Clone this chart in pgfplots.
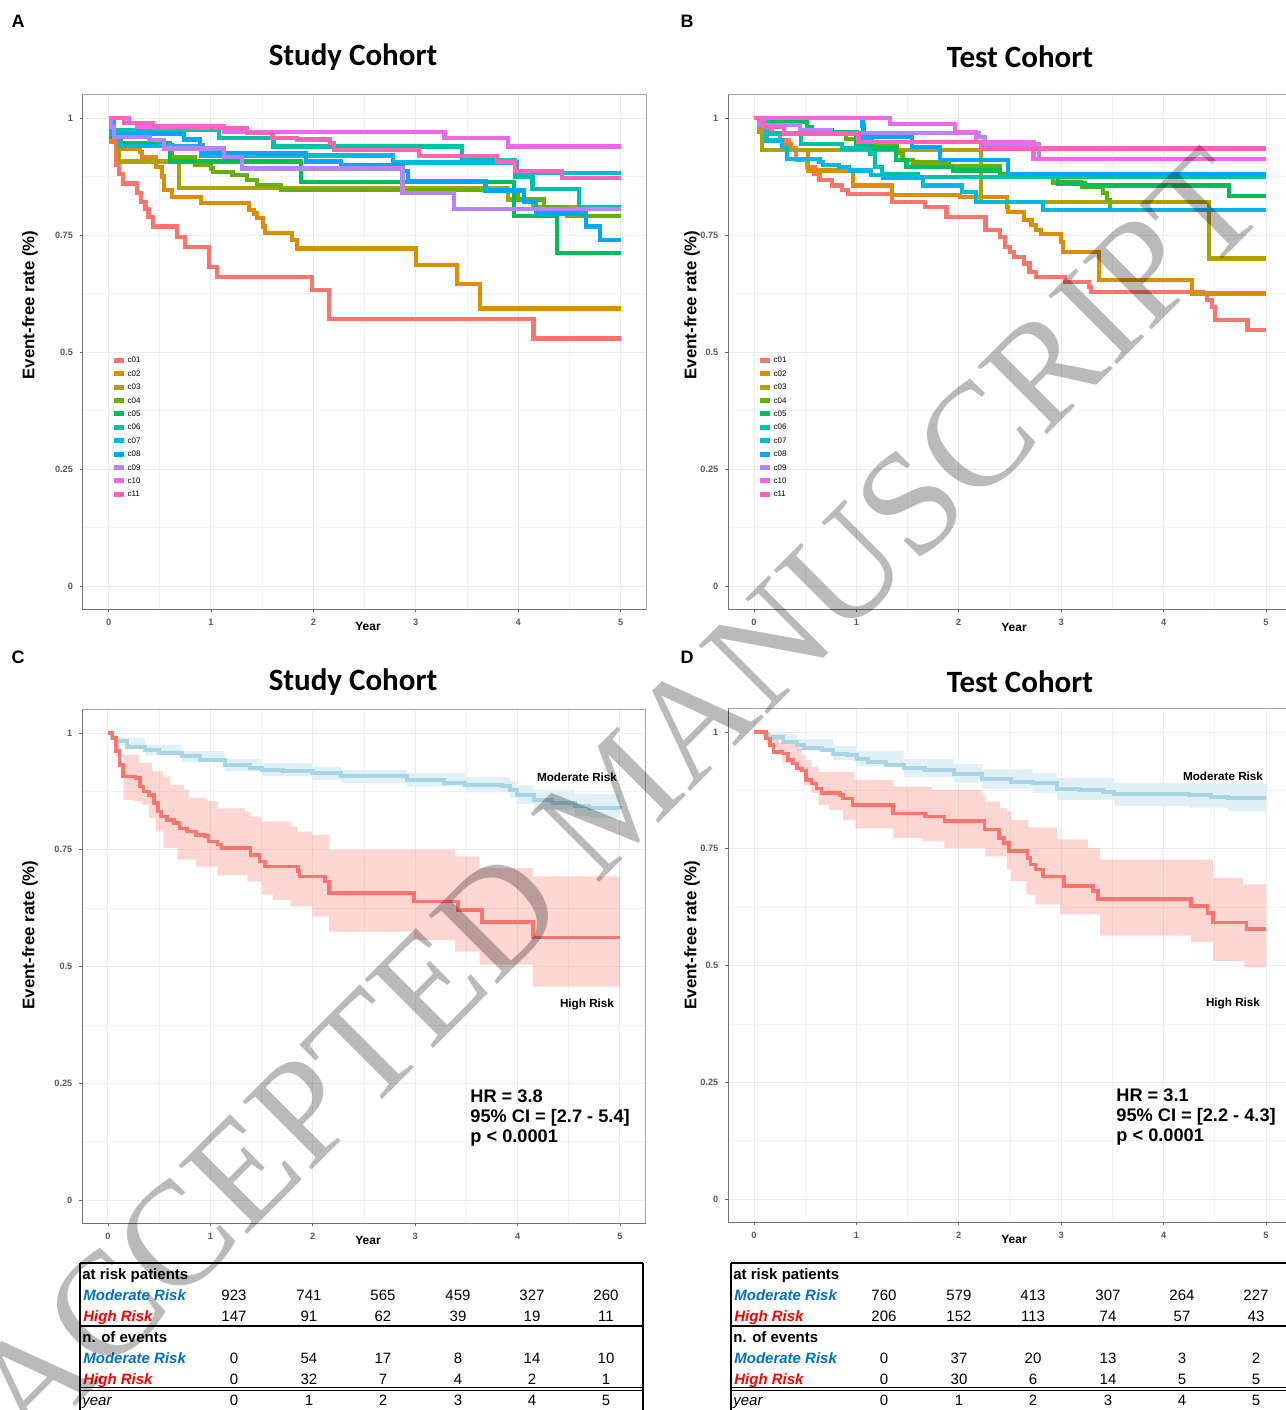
\documentclass[border=0pt]{standalone}
\usepackage{pgfplots}
\pgfplotsset{compat=1.18}
\usepackage{fontspec}
\setmainfont{Liberation Sans}
\newfontfamily\titlefont{Carlito}
\newfontfamily\wmfont{Liberation Serif}
\definecolor{c01}{HTML}{F8766D}
\definecolor{c02}{HTML}{DB8E00}
\definecolor{c03}{HTML}{AEA200}
\definecolor{c04}{HTML}{64B200}
\definecolor{c05}{HTML}{00BD5C}
\definecolor{c06}{HTML}{00C1A7}
\definecolor{c07}{HTML}{00BADE}
\definecolor{c08}{HTML}{00A6FF}
\definecolor{c09}{HTML}{B385FF}
\definecolor{c10}{HTML}{EF67EB}
\definecolor{c11}{HTML}{FF63B6}
\definecolor{modblue}{HTML}{A8D5E3}
\definecolor{hired}{HTML}{F8766D}
\definecolor{tabblue}{HTML}{0070C0}
\definecolor{tabred}{HTML}{FF0000}
\pgfplotsset{
  km/.style={
    scale only axis, width=281.6pt,
    xmin=-0.25, xmax=5.25, ymin=-0.05, ymax=1.05,
    xtick={0,1,2,3,4,5}, ytick={0,0.25,0.5,0.75,1},
    minor xtick={0.5,1.5,2.5,3.5,4.5},
    minor ytick={0.125,0.375,0.625,0.875},
    grid=both,
    major grid style={black!8, line width=0.5pt},
    minor grid style={black!5, line width=0.35pt},
    tick align=outside, major tick length=1.5pt, minor tick length=0pt,
    xtick pos=bottom, ytick pos=left,
    tick style={black!60, line width=0.45pt},
    axis line style={black!35, line width=0.5pt},
    ticklabel style={font=\fontsize{4.6}{4.6}\selectfont\bfseries, text=black!65},
    /pgf/number format/assume math mode=true,
    after end axis/.code={\draw[black!55, line width=0.5pt] (rel axis cs:0,1) -- (rel axis cs:0,0) -- (rel axis cs:1,0);},
  },
  cl/.style={const plot, line width=2.1pt, color=#1},
  band/.style={const plot, draw=none, fill=#1, forget plot},
  kmleg/.style={
    legend style={at={(#1,0.492)}, anchor=north west, draw=none, fill=none,
      font=\fontsize{4}{4}\selectfont, row sep=2.9pt, inner sep=0pt,
      nodes={inner sep=0.6pt, text height=2.6pt, text depth=0pt, anchor=west}},
    legend cell align=left,
    legend image code/.code={\draw[##1, line width=2.5pt] (0pt,0pt) -- (5pt,0pt);},
  },
}
\begin{document}
\begin{tikzpicture}
\useasboundingbox (0pt,0pt) rectangle (643pt,-705pt);

% ---------------- Panel A ----------------
\begin{axis}[km, height=257.4pt, at={(41.5pt,-304.7pt)}, anchor=south west, kmleg=0.0497]
\addplot[cl=c01] coordinates {(0,1)(0.05,0.95)(0.07,0.90)(0.10,0.88)(0.14,0.86)(0.28,0.84)(0.32,0.82)(0.36,0.805)(0.39,0.789)(0.43,0.768)(0.67,0.746)(0.75,0.725)(0.98,0.682)(1.06,0.661)(1.99,0.632)(2.15,0.571)(4.15,0.529)(5,0.529)};
\addlegendentry{c01}
\addplot[cl=c02] coordinates {(0,1)(0.02,0.95)(0.08,0.935)(0.31,0.928)(0.33,0.917)(0.46,0.896)(0.52,0.875)(0.54,0.846)(0.62,0.832)(0.90,0.818)(1.37,0.803)(1.42,0.796)(1.45,0.786)(1.51,0.768)(1.53,0.754)(1.79,0.739)(1.84,0.721)(3.0,0.686)(3.40,0.646)(3.63,0.593)(5,0.593)};
\addlegendentry{c02}
\addplot[cl=c03] coordinates {(0,1)(0.02,0.957)(0.10,0.907)(0.69,0.85)(3.9,0.826)(4.15,0.81)(5,0.81)};
\addlegendentry{c03}
\addplot[cl=c04] coordinates {(0,1)(0.02,0.96)(0.1,0.942)(0.62,0.917)(0.84,0.90)(1.0,0.892)(1.02,0.885)(1.21,0.878)(1.35,0.868)(1.45,0.857)(1.68,0.846)(4.0,0.826)(4.25,0.81)(4.48,0.79)(5,0.79)};
\addlegendentry{c04}
\addplot[cl=c05] coordinates {(0,1)(0.03,0.96)(0.12,0.946)(0.6,0.907)(1.88,0.863)(3.96,0.79)(4.38,0.711)(5,0.711)};
\addlegendentry{c05}
\addplot[cl=c06] coordinates {(0,1)(0.03,0.975)(1.08,0.957)(1.61,0.939)(3.45,0.91)(3.97,0.875)(4.14,0.849)(4.59,0.81)(5,0.81)};
\addlegendentry{c06}
\addplot[cl=c07] coordinates {(0,1)(0.05,0.96)(0.1,0.94)(0.9,0.92)(2.78,0.905)(3.99,0.882)(5,0.882)};
\addlegendentry{c07}
\addplot[cl=c08] coordinates {(0,1)(0.03,0.965)(0.74,0.954)(0.89,0.943)(0.92,0.925)(1.93,0.907)(2.27,0.9)(2.87,0.887)(2.92,0.866)(3.68,0.845)(4.06,0.82)(4.17,0.796)(4.66,0.768)(4.80,0.74)(5,0.74)};
\addlegendentry{c08}
\addplot[cl=c09] coordinates {(0,1)(0.02,0.98)(0.05,0.96)(0.4,0.953)(0.54,0.935)(1.13,0.917)(1.30,0.892)(2.87,0.839)(3.37,0.805)(5,0.805)};
\addlegendentry{c09}
\addplot[cl=c10] coordinates {(0,1)(0.2,0.99)(0.28,0.982)(1.13,0.97)(3.28,0.957)(3.9,0.939)(5,0.939)};
\addlegendentry{c10}
\addplot[cl=c11] coordinates {(0,1)(0.15,0.99)(0.43,0.979)(1.35,0.968)(1.6,0.957)(1.84,0.954)(2.16,0.946)(2.2,0.932)(3.03,0.918)(3.79,0.907)(3.97,0.886)(4.43,0.871)(5,0.871)};
\addlegendentry{c11}
\end{axis}

% ---------------- Panel B ----------------
\begin{axis}[km, height=257.4pt, at={(364.2pt,-304.7pt)}, anchor=south west, kmleg=0.0508]
\addplot[cl=c01] coordinates {(0,1)(0.06,0.988)(0.17,0.967)(0.25,0.952)(0.34,0.935)(0.41,0.91)(0.52,0.895)(0.59,0.881)(0.64,0.867)(0.76,0.856)(0.86,0.846)(0.92,0.838)(1.35,0.821)(1.67,0.81)(1.88,0.789)(2.26,0.76)(2.40,0.746)(2.45,0.725)(2.50,0.714)(2.54,0.703)(2.64,0.689)(2.69,0.671)(2.75,0.66)(3.04,0.65)(3.27,0.639)(3.29,0.629)(4.38,0.625)(4.42,0.611)(4.47,0.597)(4.5,0.568)(4.82,0.547)(5,0.547)};
\addlegendentry{c01}
\addplot[cl=c02] coordinates {(0,1)(0.05,0.97)(0.13,0.952)(0.27,0.945)(0.36,0.931)(0.53,0.888)(0.97,0.856)(1.35,0.835)(2.01,0.831)(2.47,0.81)(2.48,0.80)(2.64,0.782)(2.71,0.771)(2.75,0.76)(2.80,0.753)(3.0,0.735)(3.02,0.714)(3.37,0.654)(4.28,0.625)(5,0.625)};
\addlegendentry{c02}
\addplot[cl=c03] coordinates {(0,1)(0.075,0.932)(2.22,0.82)(4.44,0.70)(5,0.70)};
\addlegendentry{c03}
\addplot[cl=c04] coordinates {(0,1)(0.05,0.99)(0.45,0.975)(0.55,0.965)(0.9,0.955)(1.15,0.94)(1.4,0.925)(1.45,0.91)(1.55,0.905)(1.9,0.898)(2.4,0.88)(2.92,0.862)(3.2,0.853)(3.41,0.839)(3.45,0.825)(3.48,0.81)(3.5,0.81)};
\addlegendentry{c04}
\addplot[cl=c05] coordinates {(0,1)(0.17,0.991)(0.52,0.981)(0.57,0.974)(0.76,0.97)(1.0,0.945)(1.14,0.935)(1.39,0.91)(1.49,0.895)(1.94,0.888)(2.40,0.874)(2.97,0.86)(3.23,0.856)(4.64,0.833)(5,0.833)};
\addlegendentry{c05}
\addplot[cl=c06] coordinates {(0,1)(0.08,0.991)(0.13,0.967)(0.46,0.945)(0.86,0.935)(1.13,0.924)(1.18,0.895)(1.25,0.881)(1.6,0.874)(5,0.874)};
\addlegendentry{c06}
\addplot[cl=c07] coordinates {(0,1)(0.1,0.995)(0.115,0.952)(0.27,0.938)(0.32,0.913)(0.64,0.906)(0.67,0.899)(0.83,0.895)(0.93,0.888)(1.14,0.878)(1.26,0.871)(1.65,0.856)(2.03,0.842)(2.17,0.821)(2.82,0.803)(5,0.803)};
\addlegendentry{c07}
\addplot[cl=c08] coordinates {(0,1)(1.06,0.984)(1.07,0.959)(1.54,0.938)(1.82,0.91)(2.48,0.881)(5,0.881)};
\addlegendentry{c08}
\addplot[cl=c09] coordinates {(0,1)(0.05,0.985)(0.45,0.975)(0.75,0.968)(2.2,0.96)(2.25,0.945)(2.78,0.913)(5,0.913)};
\addlegendentry{c09}
\addplot[cl=c10] coordinates {(0,1)(1.33,0.988)(1.96,0.97)(2.17,0.949)(2.73,0.913)(5,0.913)};
\addlegendentry{c10}
\addplot[cl=c11] coordinates {(0,1)(0.05,0.995)(0.1,0.981)(0.29,0.967)(1.02,0.949)(2.22,0.935)(5,0.935)};
\addlegendentry{c11}
\end{axis}

% ---------------- Panel C ----------------
\begin{axis}[km, height=256.85pt, at={(41.2pt,-611.7pt)}, anchor=south west]
% moderate-risk band: upper bound forward, lower bound backward
\addplot[band=modblue!35] coordinates {(0,1)(0.078,0.99)(0.36,0.975)(0.72,0.962)(1.14,0.945)(1.5,0.935)(2.0,0.928)(2.28,0.921)(2.92,0.914)(3.49,0.905)(3.93,0.897)(3.99,0.888)(4.16,0.878)(4.56,0.87)(4.70,0.869)(5,0.868)
 (5,0.818)(4.70,0.822)(4.56,0.836)(4.16,0.848)(3.99,0.862)(3.93,0.873)(3.49,0.886)(2.92,0.893)(2.28,0.9)(2.0,0.907)(1.5,0.919)(1.14,0.938)(0.72,0.953)(0.36,0.974)(0.078,1)(0,1)};
% high-risk band
\addplot[band=hired, fill opacity=0.3] coordinates {(0,1)(0.078,0.99)(0.114,0.954)(0.31,0.936)(0.43,0.918)(0.54,0.907)(0.61,0.889)(0.74,0.879)(0.79,0.861)(0.97,0.854)(1.07,0.839)(1.34,0.832)(1.39,0.821)(1.50,0.811)(1.78,0.80)(1.85,0.789)(1.99,0.782)(2.16,0.75)(3.39,0.736)(3.63,0.711)(4.15,0.693)(5,0.693)
 (5,0.457)(4.15,0.504)(3.63,0.532)(3.39,0.557)(2.99,0.575)(2.16,0.607)(1.995,0.629)(1.78,0.643)(1.61,0.654)(1.50,0.682)(1.36,0.696)(1.07,0.714)(0.86,0.729)(0.68,0.754)(0.54,0.789)(0.47,0.818)(0.40,0.846)(0.33,0.854)(0.25,0.857)(0.149,0.95)(0.078,1)(0,1)};
\addplot[const plot, modblue, line width=2pt] coordinates {(0,1)(0.04,0.99)(0.078,0.982)(0.185,0.971)(0.36,0.964)(0.50,0.957)(0.72,0.95)(0.9,0.943)(1.14,0.932)(1.39,0.925)(1.5,0.921)(1.71,0.918)(2.0,0.914)(2.28,0.907)(2.74,0.907)(2.92,0.9)(3.28,0.893)(3.49,0.889)(3.85,0.886)(3.93,0.879)(3.99,0.868)(4.16,0.857)(4.34,0.85)(4.56,0.843)(4.70,0.839)(5,0.838)};
\addplot[const plot, hired, line width=1.8pt] coordinates {(0,1)(0.043,0.989)(0.078,0.961)(0.114,0.932)(0.149,0.907)(0.27,0.904)(0.31,0.886)(0.345,0.875)(0.40,0.868)(0.45,0.85)(0.49,0.832)(0.52,0.821)(0.576,0.814)(0.647,0.807)(0.70,0.796)(0.77,0.789)(0.86,0.782)(0.95,0.779)(0.98,0.768)(1.07,0.761)(1.11,0.754)(1.39,0.739)(1.48,0.725)(1.535,0.714)(1.855,0.704)(1.87,0.693)(2.12,0.682)(2.16,0.657)(2.99,0.639)(3.42,0.621)(3.65,0.596)(4.15,0.562)(5,0.562)};
\end{axis}

% ---------------- Panel D ----------------
\begin{axis}[km, height=256.85pt, at={(364.2pt,-611.2pt)}, anchor=south west]
\addplot[band=modblue!35] coordinates {(0,1)(0.14,0.996)(0.42,0.985)(0.77,0.97)(1.01,0.96)(1.46,0.942)(1.95,0.932)(2.23,0.92)(2.72,0.912)(2.96,0.902)(3.52,0.892)(4.25,0.89)(4.63,0.89)(5,0.89)
 (5,0.83)(4.63,0.838)(4.25,0.842)(3.52,0.855)(2.96,0.869)(2.72,0.879)(2.23,0.892)(1.95,0.903)(1.46,0.927)(1.01,0.94)(0.77,0.96)(0.42,0.982)(0.14,1)(0,1)};
\addplot[band=hired, fill opacity=0.3] coordinates {(0,1)(0.12,0.995)(0.25,0.978)(0.42,0.965)(0.47,0.95)(0.505,0.94)(0.56,0.926)(0.63,0.915)(0.98,0.897)(1.36,0.883)(1.74,0.876)(2.23,0.865)(2.26,0.851)(2.40,0.837)(2.47,0.83)(2.51,0.812)(2.68,0.796)(2.96,0.77)(3.26,0.752)(3.38,0.727)(4.48,0.688)(4.78,0.674)(5,0.674)
 (5,0.496)(4.79,0.51)(4.48,0.55)(4.27,0.564)(3.38,0.61)(2.99,0.631)(2.75,0.652)(2.66,0.681)(2.51,0.706)(2.47,0.734)(2.26,0.752)(1.86,0.766)(1.65,0.773)(1.36,0.794)(0.99,0.812)(0.87,0.833)(0.73,0.844)(0.63,0.869)(0.56,0.887)(0.49,0.915)(0.42,0.933)(0.28,0.954)(0.24,0.965)(0.157,0.975)(0.12,1)(0,1)};
\addplot[const plot, modblue, line width=2pt] coordinates {(0,1)(0.105,0.996)(0.14,0.989)(0.28,0.979)(0.42,0.972)(0.49,0.966)(0.66,0.961)(0.77,0.954)(0.91,0.95)(1.01,0.943)(1.11,0.936)(1.29,0.929)(1.46,0.922)(1.67,0.918)(1.95,0.911)(2.23,0.899)(2.51,0.894)(2.72,0.89)(2.96,0.878)(3.17,0.876)(3.41,0.872)(3.52,0.867)(4.25,0.865)(4.46,0.862)(4.63,0.858)(5,0.858)};
\addplot[const plot, hired, line width=1.8pt] coordinates {(0,1)(0.105,1)(0.12,0.986)(0.157,0.972)(0.19,0.957)(0.28,0.954)(0.33,0.94)(0.38,0.933)(0.42,0.922)(0.47,0.918)(0.505,0.897)(0.56,0.89)(0.61,0.879)(0.66,0.869)(0.84,0.865)(0.87,0.858)(0.96,0.844)(1.36,0.826)(1.67,0.819)(1.86,0.809)(2.25,0.791)(2.39,0.773)(2.44,0.762)(2.49,0.745)(2.67,0.73)(2.70,0.716)(2.75,0.706)(2.82,0.691)(3.03,0.67)(3.31,0.66)(3.36,0.642)(4.27,0.628)(4.43,0.613)(4.48,0.592)(4.81,0.578)(5,0.578)};
\end{axis}

\begin{scope}[x=0.5pt, y=-0.5pt]
% ---------------- Titles, letters, axis labels ----------------
\begin{scope}[every node/.style={inner sep=0pt}]
\node[font=\fontsize{9}{9}\selectfont\bfseries] at (18,21) {A};
\node[font=\fontsize{9}{9}\selectfont\bfseries] at (687,21) {B};
\node[font=\fontsize{9}{9}\selectfont\bfseries] at (18,657) {C};
\node[font=\fontsize{9}{9}\selectfont\bfseries] at (687,657) {D};
\node[font=\titlefont\fontsize{15.5}{15.5}\selectfont\bfseries] at (353,57) {Study Cohort};
\node[font=\titlefont\fontsize{15.5}{15.5}\selectfont\bfseries] at (1020,57) {Test Cohort};
\node[font=\titlefont\fontsize{15.5}{15.5}\selectfont\bfseries] at (353,682) {Study Cohort};
\node[font=\titlefont\fontsize{15.5}{15.5}\selectfont\bfseries] at (1020,682) {Test Cohort};
\foreach \xx/\yy in {30/305, 692/305, 30/935, 692/935}
  \node[rotate=90, font=\fontsize{8.4}{8.4}\selectfont\bfseries] at (\xx,\yy) {Event-free rate (\%)};
\foreach \xx/\yy in {368/626, 1014/627, 368/1240, 1014/1239}
  \node[font=\fontsize{6}{6}\selectfont\bfseries] at (\xx,\yy) {Year};
\node[font=\fontsize{5.85}{5.85}\selectfont\bfseries] at (577,777) {Moderate Risk};
\node[font=\fontsize{5.85}{5.85}\selectfont\bfseries] at (587,1004) {High Risk};
\node[font=\fontsize{5.85}{5.85}\selectfont\bfseries] at (1223,776) {Moderate Risk};
\node[font=\fontsize{5.85}{5.85}\selectfont\bfseries] at (1233,1003) {High Risk};
\node[anchor=west, align=left, font=\fontsize{9.1}{10}\selectfont\bfseries] at (470,1118) {HR = 3.8\\95\% CI = [2.7 - 5.4]\\p < 0.0001};
\node[anchor=west, align=left, font=\fontsize{9.1}{10}\selectfont\bfseries] at (1116,1117) {HR = 3.1\\95\% CI = [2.2 - 4.3]\\p < 0.0001};
\end{scope}

% ---------------- Tables ----------------
\begin{scope}[every node/.style={inner sep=0pt, font=\fontsize{7.5}{7.5}\selectfont}]
\foreach \L/\R in {80/643, 731/1290}{
  \draw[line width=0.65pt] (\L,1263) -- (\R,1263);
  \draw[line width=0.65pt] (\L,1263) -- (\L,1415);
  \draw[line width=0.65pt] (\R,1263) -- (\R,1415);
  \draw[line width=0.65pt] (\L,1326) -- (\R,1326);
  \draw[line width=0.5pt] (\L,1387.5) -- (\R,1387.5);
  \draw[line width=0.5pt] (\L,1390.8) -- (\R,1390.8);
  \node[anchor=base west, font=\fontsize{7.5}{7.5}\selectfont\bfseries] at (\L+2,1279.4) {at risk patients};
  \node[anchor=base west, font=\fontsize{7.5}{7.5}\selectfont\bfseries\itshape, text=tabblue] at (\L+3,1300.4) {Moderate Risk};
  \node[anchor=base west, font=\fontsize{7.5}{7.5}\selectfont\bfseries\itshape, text=tabred] at (\L+3,1321.4) {High Risk};
  \node[anchor=base west, font=\fontsize{7.5}{7.5}\selectfont\bfseries] at (\L+2,1342.4) {n. of events};
  \node[anchor=base west, font=\fontsize{7.5}{7.5}\selectfont\bfseries\itshape, text=tabblue] at (\L+3,1363.4) {Moderate Risk};
  \node[anchor=base west, font=\fontsize{7.5}{7.5}\selectfont\bfseries\itshape, text=tabred] at (\L+3,1384.4) {High Risk};
  \node[anchor=base west, font=\fontsize{7.5}{7.5}\selectfont\itshape] at (\L+2,1405.4) {year};
}
\foreach \x/\a/\b/\c/\d/\e in {234/923/147/0/0/0, 309/741/91/54/32/1, 383/565/62/17/7/2, 458/459/39/8/4/3, 532/327/19/14/2/4, 606/260/11/10/1/5,
  884/760/206/0/0/0, 959/579/152/37/30/1, 1033/413/113/20/6/2, 1108/307/74/13/14/3, 1182/264/57/3/5/4, 1256/227/43/2/5/5}{
  \node[anchor=base] at (\x,1300.4) {\a};
  \node[anchor=base] at (\x,1321.4) {\b};
  \node[anchor=base] at (\x,1363.4) {\c};
  \node[anchor=base] at (\x,1384.4) {\d};
  \node[anchor=base] at (\x,1405.4) {\e};
}
\end{scope}

% ---------------- Watermark ----------------
\node[rotate=45, font=\wmfont\fontsize{74}{74}\selectfont, text=black, text opacity=0.27, inner sep=0pt] at (616,798) {ACCEPTED MANUSCRIPT};
\end{scope}
\end{tikzpicture}
\end{document}
